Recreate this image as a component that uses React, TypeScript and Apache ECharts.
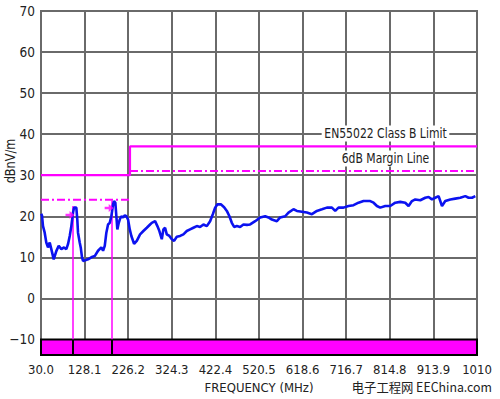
import React, { useEffect, useRef } from "react";
import * as echarts from "echarts";

const xMin = 30;
const xMax = 1010;
const yMin = -13.8;
const yMax = 70;
const yTicks = [-10, 0, 10, 20, 30, 40, 50, 60, 70];
const xTickValues = [30, 128, 226, 324, 422, 520, 618, 716, 814, 912, 1010];
const xTickLabels = ["30.0", "128.1", "226.2", "324.3", "422.4", "520.5", "618.6", "716.7", "814.8", "913.9", "1010"];

// measured emission trace: [MHz, dBnV/m]
const traceFreq = [
  30.5, 32.2, 34.5, 38.3, 41.9, 45.7, 49.6, 53.2, 58.6, 64.4, 69.8, 75.7, 81.7, 86.9, 90.7, 94.6, 98.2, 102, 104.2, 109.4,
  111.6, 113.2, 117, 119.3, 122.2, 124.5, 135.7, 143.1, 150.8, 158.2, 165.6, 169.5, 173.3, 176.9, 180.7, 184.5, 188.1, 192,
  194.2, 197.1, 199.4, 201.6, 204.8, 207, 210.6, 214.4, 218.3, 221.9, 225.7, 229.5, 233.1, 239.2, 245.3, 252.7, 260.1,
  267.8, 275.2, 279, 286.4, 291.6, 296.1, 301.5, 305.1, 308.9, 312.7, 318.6, 324, 329.2, 335.2, 342.7, 350.1, 357.7,
  365.1, 372.6, 380.2, 387.6, 395.1, 402.7, 410.1, 416.2, 421.4, 426.6, 434.2, 441.6, 447.7, 453.5, 458.9, 464.1, 470.2,
  477.6, 485, 492.7, 500.1, 511.4, 522.6, 533.8, 541.3, 548.9, 560.2, 567.6, 578.8, 586.3, 597.5, 605.2, 616.4, 627.6,
  638.9, 650.1, 661.4, 672.6, 683.9, 691.3, 698.7, 710, 721.2, 732.5, 743.7, 755, 758.8, 770, 777.5, 785.1, 792.5, 803.8,
  815, 826.3, 837.5, 848.7, 856.2, 863.8, 871.2, 882.5, 893.7, 901.2, 908.8, 916.2, 923.7, 931.3, 938.7, 950, 961.2,
  972.5, 983.7, 991.1, 998.8, 1006.2
];
const traceLevel = [
  20.6, 20.2, 17.6, 16, 13.6, 12.4, 13.6, 12, 9.5, 11.5, 12.8, 12, 12.4, 12, 13.2, 15.2, 17.6, 20.9, 22.1, 22.1,
  19.2, 16, 13.6, 12.4, 10, 9.1, 9.5, 10, 10.3, 11.6, 12.4, 11.6, 12.8, 16, 18, 18.4, 20, 22.9,
  23.7, 23.3, 20, 16.8, 18.4, 19.2, 20, 19.7, 20.2, 20, 19.2, 16.8, 15.2, 13.3, 14, 15.6, 16.4,
  17.2, 18, 18.4, 18.8, 17.6, 16.4, 14.4, 16.8, 17.2, 15.6, 15.2, 14.4, 14, 15, 15.2, 15.6, 16.4,
  16.8, 17.2, 17.6, 17.4, 18, 17.6, 18.8, 20.5, 22.1, 22.9, 22.9, 22.2, 21.3, 20, 18.4, 17.4, 17.6,
  17.4, 18, 17.9, 18, 18.8, 19.7, 20, 19.7, 19.2, 18.8, 19.7, 20, 20.9, 21.7, 21.3, 21.1, 20.9,
  20.5, 21.3, 21.7, 22.1, 22.1, 21.3, 22.1, 22.1, 22.5, 22.7, 23.3, 23.7, 23.7, 23.7, 23.3, 22.5, 22.1, 22.5,
  22.5, 23.3, 23.5, 23.3, 22.5, 23.7, 24.1, 23.9, 24.5, 24.7, 24.1, 24.5, 24.9, 22.5, 23.7, 24.1, 24.3,
  24.5, 24.9, 24.5, 24.5, 24.9
];

// EN55022 Class B limit and 6 dB margin
const limitFreq = [30, 230, 230, 1010];
const limitLevel = [30, 30, 37, 37];
const marginLowFreq = [30, 230];
const marginLowLevel = [24, 24];
const marginHighFreq = [230, 1010];
const marginHighLevel = [31, 31];

// peak markers
const peakFreq = [101.3, 188.1];
const peakLevel = [22.5, 23.8];
const arrowFreq = [95.2, 183.2];
const arrowLevel = [20.3, 22.0];
const floorLevel = -10;

const FONT = "'Liberation Sans Narrow', 'DejaVu Sans Condensed', 'Liberation Sans', sans-serif";
const MAGENTA = "#ff00ff";
const GRID = "#6a6a6a";

const zip = (a: number[], b: number[]) => a.map((v, i) => [v, b[i]]);

export default function App() {
  const ref = useRef<HTMLDivElement>(null);
  useEffect(() => {
    if (!ref.current) return;
    const chart = echarts.init(ref.current, null, { renderer: "svg" });
    chart.setOption({
      animation: false,
      backgroundColor: "#ffffff",
      textStyle: { fontFamily: FONT },
      grid: { left: 41, right: 23, top: 11, bottom: 43, show: true, borderColor: GRID, borderWidth: 2, z: 0 },
      xAxis: {
        type: "value",
        min: xMin,
        max: xMax,
        name: "FREQUENCY (MHz)",
        nameLocation: "middle",
        nameGap: 26,
        nameTextStyle: { fontFamily: FONT, fontSize: 13, color: "#222" },
        axisLine: { show: false },
        axisTick: { show: false, customValues: xTickValues },
        axisLabel: {
          customValues: xTickValues,
          fontFamily: FONT,
          fontSize: 13,
          color: "#222",
          margin: 8,
          formatter: (v: number) => xTickLabels[Math.round(((v - xMin) / (xMax - xMin)) * (xTickLabels.length - 1))],
        },
        splitLine: { show: true, lineStyle: { color: GRID, width: 2 } },
      },
      yAxis: {
        type: "value",
        min: yMin,
        max: yMax,
        axisLine: { show: false },
        axisTick: { show: false, customValues: yTicks },
        axisLabel: {
          customValues: yTicks,
          fontFamily: FONT,
          fontSize: 13.5,
          color: "#222",
          margin: 6,
          formatter: (v: number) => String(v).replace("-", "\u2212"),
        },
        splitLine: { show: true, lineStyle: { color: GRID, width: 2 } },
      },
      series: [
        {
          type: "line",
          data: [],
          silent: true,
          markArea: {
            silent: true,
            itemStyle: { color: MAGENTA, borderColor: "#000", borderWidth: 2 },
            data: [[{ coord: [xMin, floorLevel] }, { coord: [xMax, yMin] }]],
          },
          z: 1,
        },
        {
          type: "line",
          data: [],
          silent: true,
          z: 3,
          markLine: {
            silent: true,
            symbol: "none",
            label: { show: false },
            data: [
              ...peakFreq.map((f, i) => [
                { coord: [f, peakLevel[i]], lineStyle: { color: MAGENTA, width: 1.5, type: "solid" } },
                { coord: [f, floorLevel] },
              ]),
              ...peakFreq.map((f) => [
                { coord: [f, floorLevel], lineStyle: { color: "#000", width: 2, type: "solid" } },
                { coord: [f, yMin] },
              ]),
            ],
          },
        },
        {
          type: "line",
          data: zip(limitFreq, limitLevel),
          symbol: "none",
          lineStyle: { color: MAGENTA, width: 2.2 },
          z: 4,
        },
        {
          type: "line",
          data: zip(marginLowFreq, marginLowLevel),
          symbol: "none",
          lineStyle: { color: MAGENTA, width: 2, type: [8, 3, 2, 3] },
          z: 4,
        },
        {
          type: "line",
          data: zip(marginHighFreq, marginHighLevel),
          symbol: "none",
          lineStyle: { color: MAGENTA, width: 2, type: [8, 3, 2, 3] },
          z: 4,
        },
        {
          type: "line",
          data: zip(traceFreq, traceLevel),
          symbol: "none",
          lineStyle: { color: "#0b12f0", width: 2.6 },
          z: 5,
        },
        {
          type: "scatter",
          data: zip(arrowFreq, arrowLevel),
          symbol: "path://M0,3.5 L4.5,3.5 L4.5,0 L10,5 L4.5,10 L4.5,6.5 L0,6.5 Z",
          symbolSize: [9, 8],
          itemStyle: { color: MAGENTA },
          z: 6,
        },
      ],
      graphic: [
        {
          type: "text",
          x: 10.5,
          y: 161,
          rotation: Math.PI / 2,
          scaleX: 0.9,
          style: {
            text: "dBnV/m",
            font: `14px ${FONT}`,
            fill: "#222",
            align: "center",
            verticalAlign: "middle",
          },
        },
        {
          type: "text",
          x: 385.5,
          y: 133.5,
          z: 10,
          scaleX: 0.86,
          style: {
            text: "EN55022 Class B Limit",
            font: `14px ${FONT}`,
            fill: "#222",
            align: "center",
            verticalAlign: "middle",
            backgroundColor: "#fff",
            padding: [1, 3],
          },
        },
        {
          type: "text",
          x: 385.5,
          y: 158.5,
          z: 10,
          scaleX: 0.86,
          style: {
            text: "6dB Margin Line",
            font: `14px ${FONT}`,
            fill: "#222",
            align: "center",
            verticalAlign: "middle",
            backgroundColor: "#fff",
            padding: [1, 3],
          },
        },
        {
          type: "text",
          x: 492,
          y: 386.5,
          scaleX: 0.95,
          style: {
            text: "电子工程网 EEChina.com",
            font: `13px 'Noto Sans CJK SC', ${FONT}`,
            fill: "#222",
            align: "right",
            verticalAlign: "middle",
          },
        },
      ],
    });
    return () => chart.dispose();
  }, []);
  return <div ref={ref} style={{ position: "fixed", left: 0, top: 0, width: 500, height: 399 }} />;
}
